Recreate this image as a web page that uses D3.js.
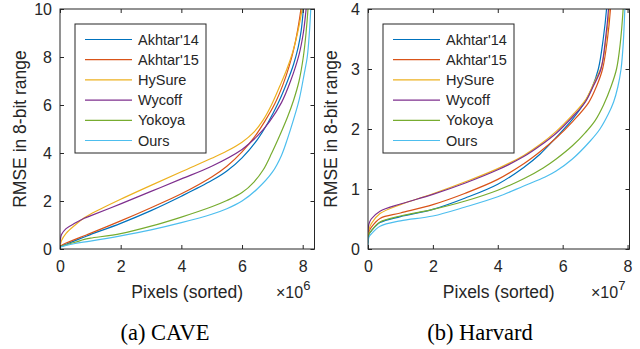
<!DOCTYPE html>
<html>
<head>
<meta charset="utf-8">
<title>RMSE curves</title>
<script src="https://d3js.org/d3.v7.min.js"></script>
<style>
  body { margin: 0; background: #fff; }
  svg text { font-family: "Liberation Sans", Arial, Helvetica, sans-serif; fill: #262626; }
  .caption { font-family: "Liberation Serif", "Times New Roman", serif; fill: #000; }
  .box { fill: none; stroke: #262626; stroke-width: 1; }
  .axis path { display: none; }
  .axis line { stroke: #262626; }
  .curve { fill: none; stroke-width: 1.2; }
</style>
</head>
<body>
<svg id="chart" width="640" height="349"></svg>
<script>
const methods = ["Akhtar'14", "Akhtar'15", "HySure", "Wycoff", "Yokoya", "Ours"];
const colors = ["#0072BD", "#D95319", "#EDB120", "#7E2F8E", "#77AC30", "#4DBEEE"];

const caveXTicks = [0, 2, 4, 6, 8];        // x 10^6
const caveYTicks = [0, 2, 4, 6, 8, 10];
const harvardXTicks = [0, 2, 4, 6, 8];     // x 10^7
const harvardYTicks = [0, 1, 2, 3, 4];

// CAVE: [pixels (x10^6), RMSE]
const caveAkhtar14 = [[0,0.1],[0.2,0.2],[0.5,0.35],[0.8,0.5],[1,0.6],[2,1.07],[3,1.6],[4,2.2],[5,2.85],[5.5,3.25],[6,3.8],[6.5,4.55],[6.85,5.25],[7.2,6.1],[7.5,7.0],[7.7,7.7],[7.85,8.4],[7.95,9.1],[8.03,10.1],[8.06,10.6]];
const caveAkhtar15 = [[0,0.12],[0.2,0.25],[0.5,0.4],[0.8,0.55],[1,0.65],[2,1.17],[3,1.72],[4,2.3],[5,3.0],[5.5,3.45],[6,4.05],[6.4,4.65],[6.75,5.32],[7.08,6.05],[7.35,6.85],[7.55,7.6],[7.7,8.3],[7.83,9.1],[7.95,10.1],[7.98,10.6]];
const caveHySure = [[0,0.1],[0.05,0.35],[0.2,0.65],[0.5,1.0],[0.8,1.3],[1,1.45],[2,2.07],[3,2.65],[4,3.22],[5,3.78],[5.5,4.08],[6,4.45],[6.4,4.88],[6.7,5.38],[6.97,6.0],[7.25,6.8],[7.48,7.5],[7.67,8.2],[7.83,9.0],[7.99,10.1],[8.02,10.6]];
const caveWycoff = [[0,0.2],[0.05,0.6],[0.2,0.85],[0.5,1.08],[0.8,1.28],[1,1.38],[2,1.88],[3,2.4],[4,2.92],[5,3.45],[6,4.15],[6.5,4.7],[6.9,5.3],[7.3,6.1],[7.6,7.0],[7.88,8.1],[8.02,9.0],[8.12,10.1],[8.15,10.6]];
const caveYokoya = [[0,0.1],[0.2,0.17],[0.5,0.28],[0.8,0.4],[1,0.45],[2,0.64],[3,0.95],[4,1.33],[5,1.76],[5.5,2.02],[6,2.35],[6.4,2.8],[6.7,3.3],[6.98,4.0],[7.25,4.75],[7.5,5.5],[7.7,6.2],[7.88,7.0],[8.02,8.0],[8.11,9.0],[8.18,10.1],[8.2,10.6]];
const caveOurs = [[0,0.08],[0.2,0.15],[0.5,0.23],[1,0.33],[2,0.55],[3,0.8],[4,1.1],[5,1.45],[5.5,1.68],[6,2.0],[6.5,2.5],[7.0,3.2],[7.3,3.9],[7.5,4.6],[7.7,5.4],[7.88,6.2],[8.05,7.3],[8.15,8.0],[8.22,9.0],[8.27,10.1],[8.29,10.6]];

// Harvard: [pixels (x10^7), RMSE]
const harvardAkhtar14 = [[0,0.12],[0.03,0.25],[0.1,0.3],[0.37,0.44],[1,0.54],[2,0.66],[3,0.85],[4,1.08],[4.8,1.36],[5.3,1.58],[5.8,1.86],[6.3,2.16],[6.65,2.42],[6.9,2.68],[7.1,3.0],[7.25,3.5],[7.36,4.05],[7.38,4.3]];
const harvardAkhtar15 = [[0,0.15],[0.03,0.29],[0.1,0.36],[0.37,0.51],[1,0.6],[2,0.74],[3,0.93],[4,1.16],[4.8,1.42],[5.3,1.62],[5.8,1.85],[6.3,2.12],[6.8,2.44],[7.05,2.72],[7.23,3.0],[7.38,3.5],[7.48,4.05],[7.5,4.3]];
const harvardHySure = [[0,0.18],[0.03,0.32],[0.1,0.42],[0.37,0.59],[1,0.74],[2,0.92],[3,1.12],[4,1.34],[4.8,1.56],[5.3,1.74],[5.8,1.96],[6.3,2.23],[6.7,2.48],[6.95,2.75],[7.2,3.05],[7.34,3.5],[7.45,4.05],[7.47,4.3]];
const harvardWycoff = [[0,0.28],[0.03,0.42],[0.1,0.5],[0.37,0.63],[1,0.75],[2,0.91],[3,1.1],[4,1.32],[4.8,1.54],[5.3,1.72],[5.8,1.93],[6.3,2.2],[6.7,2.45],[6.95,2.72],[7.18,3.0],[7.32,3.5],[7.42,4.05],[7.44,4.3]];
const harvardYokoya = [[0,0.1],[0.03,0.24],[0.1,0.3],[0.37,0.45],[1,0.55],[2,0.66],[3,0.8],[4,0.98],[4.8,1.17],[5.4,1.35],[5.8,1.5],[6.3,1.72],[6.7,1.94],[7.0,2.14],[7.26,2.4],[7.5,2.72],[7.66,3.0],[7.77,3.4],[7.87,4.05],[7.89,4.3]];
const harvardOurs = [[0,0.05],[0.03,0.2],[0.1,0.25],[0.37,0.38],[1,0.47],[2,0.55],[3,0.7],[4,0.87],[4.8,1.05],[5.46,1.2],[5.8,1.3],[6.3,1.5],[6.85,1.8],[7.15,2.0],[7.4,2.24],[7.57,2.45],[7.7,2.7],[7.8,3.0],[7.87,3.45],[7.92,4.05],[7.94,4.3]];

const caveSeries = [caveAkhtar14, caveAkhtar15, caveHySure, caveWycoff, caveYokoya, caveOurs];
const harvardSeries = [harvardAkhtar14, harvardAkhtar15, harvardHySure, harvardWycoff, harvardYokoya, harvardOurs];

const svg = d3.select("#chart");

function drawPanel(p) {
  const x = d3.scaleLinear().domain([0, p.xMax]).range([p.left, p.right]);
  const y = d3.scaleLinear().domain([0, p.yMax]).range([p.bottom, p.top]);
  const g = svg.append("g");

  const clipId = "clip-" + p.id;
  g.append("clipPath").attr("id", clipId)
    .append("rect")
    .attr("x", p.left).attr("y", p.top)
    .attr("width", p.right - p.left).attr("height", p.bottom - p.top);

  const line = d3.line()
    .x(d => x(d[0]))
    .y(d => y(d[1]))
    .curve(d3.curveCatmullRom.alpha(0.5));

  g.append("g").attr("clip-path", `url(#${clipId})`)
    .selectAll("path")
    .data(p.series)
    .enter().append("path")
    .attr("class", "curve")
    .attr("stroke", (d, i) => colors[i])
    .attr("d", line);

  // axes, MATLAB style ticks pointing inward
  g.append("g").attr("class", "axis")
    .attr("transform", `translate(0,${p.bottom})`)
    .call(d3.axisBottom(x).tickValues(p.xTicks).tickFormat(d3.format("d"))
      .tickSizeInner(-4).tickSizeOuter(0).tickPadding(12))
    .selectAll("text").style("font-size", "16px");
  g.append("g").attr("class", "axis")
    .attr("transform", `translate(0,${p.top})`)
    .call(d3.axisTop(x).tickValues(p.xTicks).tickFormat("")
      .tickSizeInner(-4).tickSizeOuter(0));
  g.append("g").attr("class", "axis")
    .attr("transform", `translate(${p.left},0)`)
    .call(d3.axisLeft(y).tickValues(p.yTicks).tickFormat(d3.format("d"))
      .tickSizeInner(-4).tickSizeOuter(0).tickPadding(8))
    .selectAll("text").style("font-size", "16px");
  g.append("g").attr("class", "axis")
    .attr("transform", `translate(${p.right},0)`)
    .call(d3.axisRight(y).tickValues(p.yTicks).tickFormat("")
      .tickSizeInner(-4).tickSizeOuter(0));

  g.append("rect").attr("class", "box")
    .attr("x", p.left).attr("y", p.top)
    .attr("width", p.right - p.left).attr("height", p.bottom - p.top);

  // axis labels
  g.append("text")
    .attr("x", (p.left + p.right) / 2).attr("y", 298)
    .attr("text-anchor", "middle").style("font-size", "17.5px")
    .text("Pixels (sorted)");
  const ex = g.append("text")
    .attr("x", p.expX).attr("y", 298)
    .style("font-size", "16px");
  ex.append("tspan").text("\u00d710");
  ex.append("tspan").attr("dy", -8).style("font-size", "13px").text(p.exponent);

  g.append("text")
    .attr("transform", `translate(${p.yLabelX},${(p.top + p.bottom) / 2}) rotate(-90)`)
    .attr("text-anchor", "middle").style("font-size", "17.5px")
    .text("RMSE in 8-bit range");

  // legend
  const lx = p.left + 15, ly = p.top + 15, lw = 131, lh = 129;
  const legend = g.append("g");
  legend.append("rect")
    .attr("x", lx).attr("y", ly).attr("width", lw).attr("height", lh)
    .attr("fill", "#fff").attr("stroke", "#262626").attr("stroke-width", 1);
  methods.forEach((m, i) => {
    const ry = ly + 15.5 + i * 20.2;
    legend.append("line")
      .attr("x1", lx + 10).attr("x2", lx + 57)
      .attr("y1", ry).attr("y2", ry)
      .attr("stroke", colors[i]).attr("stroke-width", 1.2);
    legend.append("text")
      .attr("x", lx + 63).attr("y", ry).attr("dy", "0.35em")
      .style("font-size", "14.5px")
      .text(m);
  });

  svg.append("text").attr("class", "caption")
    .attr("x", p.captionX).attr("y", 340)
    .attr("text-anchor", "middle").style("font-size", "22.5px")
    .text(p.caption);
}

drawPanel({
  id: "cave", series: caveSeries, xTicks: caveXTicks, yTicks: caveYTicks,
  xMax: 8.389, yMax: 10, left: 60, right: 314.5, top: 9, bottom: 249,
  exponent: "6", expX: 276, yLabelX: 26, caption: "(a) CAVE", captionX: 165
});
drawPanel({
  id: "harvard", series: harvardSeries, xTicks: harvardXTicks, yTicks: harvardYTicks,
  xMax: 8.06, yMax: 4, left: 368, right: 629.5, top: 9, bottom: 249,
  exponent: "7", expX: 591, yLabelX: 337, caption: "(b) Harvard", captionX: 480
});
</script>
</body>
</html>
